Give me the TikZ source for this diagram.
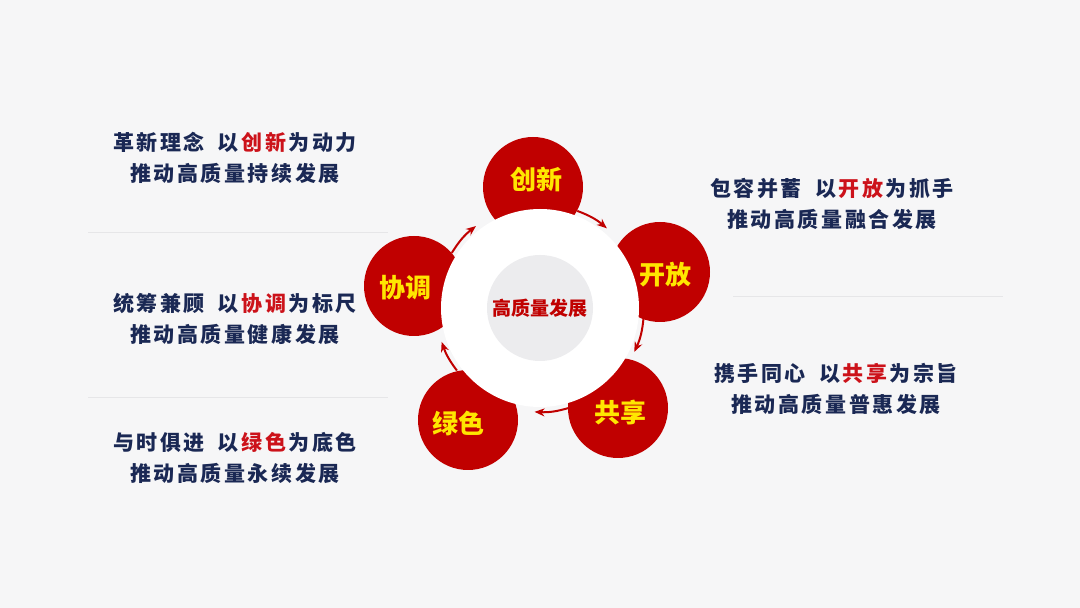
\documentclass[tikz,border=0pt]{standalone}
\usepackage{fontspec}
\setmainfont{Noto Sans CJK SC}
\newfontfamily\cjkwide{Noto Sans CJK SC}[LetterSpace=12]
\usetikzlibrary{arrows.meta, calc}

\definecolor{bgcol}{RGB}{246,246,247}
\definecolor{deepred}{RGB}{192,0,0}
\definecolor{hotred}{RGB}{204,18,26}
\definecolor{navy}{RGB}{26,40,84}
\definecolor{gold}{RGB}{255,230,0}
\definecolor{hubgray}{RGB}{236,236,238}
\definecolor{rulegray}{RGB}{230,230,232}
\newcommand{\hlword}[1]{\hspace{2.5pt}\textcolor{hotred}{#1}\hspace{2.5pt}}
\newcommand{\gap}{\hspace{13pt}}

\begin{document}
\begin{tikzpicture}[x=1pt, y=1pt,
  petal/.style={circle, fill=deepred, minimum size=100pt, inner sep=0pt},
  petaltext/.style={text=gold, font=\fontsize{26}{26}\selectfont\bfseries},
  hub/.style={circle, fill=white, minimum size=198pt, inner sep=0pt},
  core/.style={circle, fill=hubgray, minimum size=106pt, inner sep=0pt, text=deepred, font=\fontsize{19}{19}\selectfont\bfseries},
  slogan/.style={align=center, text=navy, font=\cjkwide\fontsize{21}{31}\selectfont\bfseries},
  flow/.style={line width=2pt, ->, >={Stealth[length=10pt, width=8pt]}, deepred},
  divider/.style={draw=rulegray, line width=1pt}]

\fill[bgcol] (0,0) rectangle (1080,608);
\useasboundingbox (0,0) rectangle (1080,608);

% petals round the hub
\node[petal] (cx) at (533,421) {};
\node[petal] (kf) at (660,336) {};
\node[petal] (gx) at (618,200) {};
\node[petal] (ls) at (468,188) {};
\node[petal] (xt) at (414,322) {};

\node[hub] (hub) at (540,300) {};
\node[core] (core) at (540,300) {高质量发展};

\node[petaltext] (cxtext) at (536,428) {创新};
\node[petaltext] (kftext) at (665,333) {开放};
\node[petaltext] (gxtext) at (620,195) {共享};
\node[petaltext] (lstext) at (458,185) {绿色};
\node[petaltext] (xttext) at (405,320) {协调};

% arrow ends on the rim
\coordinate (a1) at ($(hub)+(69:104pt)$);
\coordinate (b1) at ($(hub)+(50:104pt)$);
\coordinate (a2) at ($(hub)+(-5:104pt)$);
\coordinate (b2) at ($(hub)+(-25:104pt)$);
\coordinate (a3) at ($(hub)+(-73:104pt)$);
\coordinate (b3) at ($(hub)+(-93:104pt)$);
\coordinate (a4) at ($(hub)+(-143:104pt)$);
\coordinate (b4) at ($(hub)+(-161:104pt)$);
\coordinate (a5) at ($(hub)+(148:104pt)$);
\coordinate (b5) at ($(hub)+(128:104pt)$);

\draw[flow] (a1) to[bend left=10] (b1);
\draw[flow] (a2) to[bend left=10] (b2);
\draw[flow] (a3) to[bend left=10] (b3);
\draw[flow] (a4) to[bend left=9] (b4);
\draw[flow] (a5) to[bend left=10] (b5);

% slogans
\node[slogan] (cxline) at (235,450) {革新理念\gap 以\hlword{创新}为动力\\推动高质量持续发展};
\node[slogan] (xtline) at (235,289) {统筹兼顾\gap 以\hlword{协调}为标尺\\推动高质量健康发展};
\node[slogan] (lsline) at (235,150) {与时俱进\gap 以\hlword{绿色}为底色\\推动高质量永续发展};
\node[slogan] (kfline) at (832,404) {包容并蓄\gap 以\hlword{开放}为抓手\\推动高质量融合发展};
\node[slogan] (gxline) at (836,219) {携手同心\gap 以\hlword{共享}为宗旨\\推动高质量普惠发展};

\draw[divider] (88,375) -- (388,375);
\draw[divider] (88,210) -- (388,210);
\draw[divider] (733,311) -- (1003,311);

\end{tikzpicture}
\end{document}
